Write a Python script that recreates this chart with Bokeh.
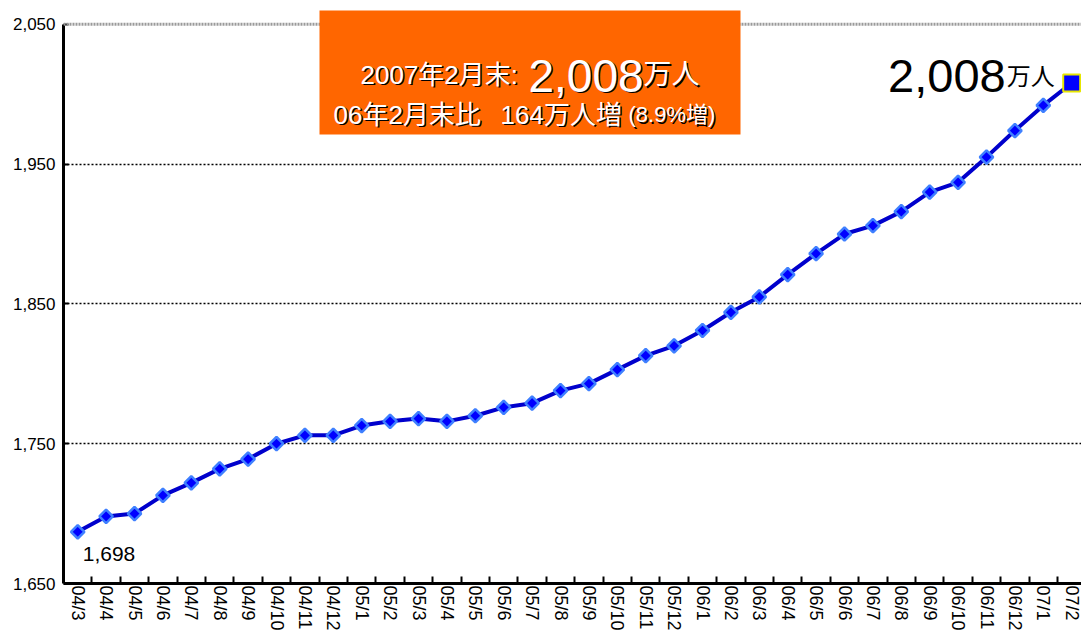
import math
from bokeh.plotting import figure
from bokeh.models import (FixedTicker, NumeralTickFormatter, Span, BoxAnnotation, Label, Range1d)
from bokeh.embed import file_html
from bokeh.resources import INLINE

# ---------------- data ----------------
months = ["04/3", "04/4", "04/5", "04/6", "04/7", "04/8", "04/9", "04/10", "04/11", "04/12",
          "05/1", "05/2", "05/3", "05/4", "05/5", "05/6", "05/7", "05/8", "05/9", "05/10",
          "05/11", "05/12", "06/1", "06/2", "06/3", "06/4", "06/5", "06/6", "06/7", "06/8",
          "06/9", "06/10", "06/11", "06/12", "07/1", "07/2"]
subscribers = [1687, 1698, 1700, 1713, 1722, 1732, 1739, 1750, 1756, 1756,
               1763, 1766, 1768, 1766, 1770, 1776, 1779, 1788, 1793, 1803,
               1813, 1820, 1831, 1844, 1855, 1871, 1886, 1900, 1906, 1916,
               1930, 1937, 1955, 1974, 1992, 2008]
y_ticks = [1650, 1750, 1850, 1950, 2050]
grid_levels = [1750, 1850, 1950]
first_label = "1,698"
unit = "万人"
head_1 = "2007年2月末:"
head_2a = "06年2月末比"
head_2b = "164万人増"
head_3 = "(8.9%増)"

# ---------------- layout ----------------
W, H = 1081, 633
LEFT = 63
BOTTOM = 46
TOP_PX = 24                       # pixel row of the 2050 line
FRAME_BOTTOM = H - BOTTOM
PXU = (FRAME_BOTTOM - TOP_PX) / (y_ticks[-1] - y_ticks[0])
y_lo = y_ticks[0]
y_hi = y_ticks[-1] + TOP_PX / PXU
DX = 28.4
x_lo = -0.5
x_hi = x_lo + (W - LEFT) / DX

def xd(px):   # pixel column -> data x
    return x_lo + (px - LEFT) / DX

def yd(py):   # pixel row -> data y
    return y_lo + (FRAME_BOTTOM - py) / PXU

FONT = "Liberation Sans, Noto Sans CJK JP, sans-serif"

idx = list(range(len(months)))

p = figure(width=W, height=H, output_backend="svg", toolbar_location=None,
           x_range=Range1d(x_lo, x_hi), y_range=Range1d(y_lo, y_hi),
           min_border_left=LEFT, min_border_bottom=BOTTOM, min_border_top=0, min_border_right=0)
p.outline_line_color = None
p.background_fill_color = "white"

# y axis
ya = p.yaxis[0]
ya.ticker = FixedTicker(ticks=y_ticks)
ya.formatter = NumeralTickFormatter(format="0,0")
ya.bounds = (y_ticks[0], y_ticks[-1])
ya.axis_line_width = 3
ya.axis_line_color = "black"
ya.major_tick_in = 5
ya.major_tick_out = 0
ya.major_tick_line_width = 2
ya.minor_tick_line_color = None
ya.major_label_standoff = 8
ya.major_label_text_font = FONT
ya.major_label_text_font_size = "17px"
ya.major_label_text_color = "black"
ya.major_label_text_baseline = "top"

# x axis: labels at categories, tick marks between categories
xa = p.xaxis[0]
xa.ticker = FixedTicker(ticks=idx, minor_ticks=[i + 0.5 for i in idx[:-1]])
xa.major_label_overrides = {i: m for i, m in zip(idx, months)}
xa.major_label_orientation = "vertical"
xa.major_label_text_font = FONT
xa.major_label_text_font_size = "18px"
xa.major_label_text_color = "black"
xa.major_label_standoff = 2
xa.axis_line_width = 3
xa.axis_line_color = "black"
xa.major_tick_line_color = None
xa.major_tick_in = 0
xa.major_tick_out = 0
xa.minor_tick_in = 7
xa.minor_tick_out = 0
xa.minor_tick_line_width = 2
xa.minor_tick_line_color = "black"

p.xgrid.grid_line_color = None
p.ygrid.ticker = FixedTicker(ticks=grid_levels)
p.ygrid.grid_line_color = "black"
p.ygrid.grid_line_dash = "2 2"
p.ygrid.grid_line_width = 1.5

p.add_layout(Span(location=y_ticks[-1], dimension="width", line_color="#9a9a9a",
                  line_width=3, line_dash="2 1"))

# series
p.line(idx, subscribers, line_color="#0000CC", line_width=4, line_join="round")
p.scatter(idx[:-1], subscribers[:-1], marker="square", angle=math.pi / 4, size=9.5,
          fill_color="#0000FF", line_color="#3F80FF", line_width=2.5)
p.scatter(idx[-1:], subscribers[-1:], marker="square", size=17,
          fill_color="#0000FF", line_color="#E6E600", line_width=2)

# first value label
p.add_layout(Label(x=idx[0], y=subscribers[0], x_offset=5, y_offset=-22, text=first_label,
                   text_font=FONT, text_font_size="21px", text_color="black",
                   text_align="left", text_baseline="alphabetic"))

# last value label
last_txt = f"{subscribers[-1]:,}"
p.add_layout(Label(x=idx[-1], y=subscribers[-1], x_offset=-66, y_offset=7, text=last_txt,
                   text_font=FONT, text_font_size="47px", text_color="black",
                   text_align="right", text_baseline="alphabetic"))
p.add_layout(Label(x=idx[-1], y=subscribers[-1], x_offset=-65, y_offset=7, text=unit,
                   text_font=FONT, text_font_size="24px", text_color="black",
                   text_align="left", text_baseline="alphabetic"))

# orange headline box
p.add_layout(BoxAnnotation(left=xd(319), right=xd(740), top=yd(10), bottom=yd(135),
                           fill_color="#FF6600", fill_alpha=1.0, line_color=None))

def shadow_text(px, py, txt, size):
    for col, dx, dy in (("black", 1.5, -1.5), ("white", 0, 0)):
        p.add_layout(Label(x=xd(px), y=yd(py), x_offset=dx, y_offset=dy, text=txt,
                           text_font=FONT, text_font_size=size, text_color=col,
                           text_align="left", text_baseline="alphabetic"))

shadow_text(360, 75, head_1, "26px")
shadow_text(528, 76, last_txt, "46px")
shadow_text(643, 75, unit, "28px")
shadow_text(333, 115, head_2a, "26px")
shadow_text(500, 115, head_2b, "26px")
shadow_text(628, 115, head_3, "22px")

open("out.html", "w").write(file_html(p, INLINE))
